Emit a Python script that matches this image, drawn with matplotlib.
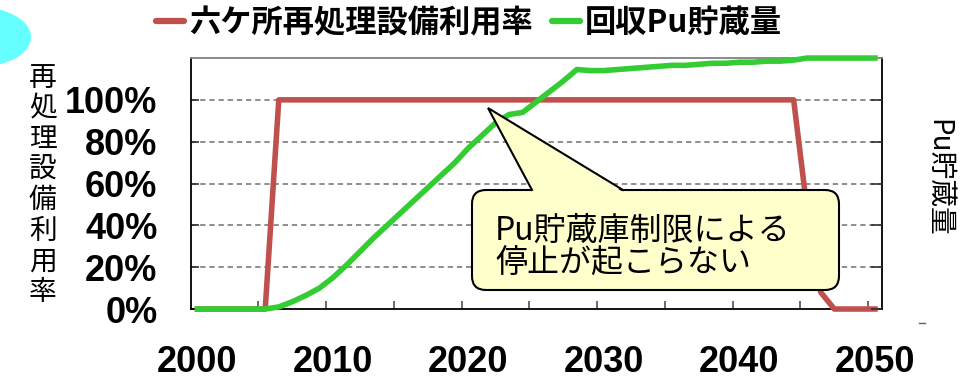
import matplotlib
matplotlib.use("Agg")
import matplotlib.pyplot as plt
from matplotlib.lines import Line2D
from matplotlib.patches import Ellipse, FancyBboxPatch, Polygon

CJK = ["Noto Sans CJK JP", "DejaVu Sans"]
plt.rcParams["font.family"] = CJK

years = list(range(2000, 2051))

# 六ケ所再処理設備利用率 (%)
util_rate = [0, 0, 0, 0, 0, 0,
             100, 100, 100, 100, 100, 100, 100, 100, 100, 100,
             100, 100, 100, 100, 100, 100, 100, 100, 100, 100,
             100, 100, 100, 100, 100, 100, 100, 100, 100, 100,
             100, 100, 100, 100, 100, 100, 100, 100, 100,
             47, 8, 0, 0, 0, 0]

# 回収Pu貯蔵量 (same 0-120 scale on the right axis)
pu_stock = [0, 0, 0, 0, 0, 0,
            1, 3.5, 6.5, 10, 15, 21, 27.5, 34, 40, 46,
            52, 58, 64, 70, 77, 83, 89, 93, 94, 99,
            104, 109, 114.5, 114, 114, 114.5, 115, 115.5, 116, 116.5,
            116.5, 117, 117.5, 117.5, 118, 118, 118.5, 118.5, 119, 120,
            120, 120, 120, 120, 120]

x_labels = [2000, 2010, 2020, 2030, 2040, 2050]
x_marks = [2004.5, 2009.5, 2014.5, 2019.5, 2024.5, 2029.5, 2034.5, 2039.5, 2044.5, 2049.5]
y_ticks = [0, 20, 40, 60, 80, 100]
y_ticklabels = ["0%", "20%", "40%", "60%", "80%", "100%"]

RED = "#c0504d"
GREEN = "#33cc33"

fig = plt.figure(figsize=(9.76, 3.8), dpi=100)
ax = fig.add_axes([0.1954, 0.1868, 0.708, 0.6605])

ax.plot(years, util_rate, color=RED, lw=4, clip_on=False, zorder=3)
ax.set_xlim(1999.5, 2050.5)
ax.set_ylim(0, 120)

for y in y_ticks[1:]:
    ax.axhline(y, color="#707070", lw=1.1, ls=(0, (3.5, 2.5)), zorder=1)

num_font = dict(family="Liberation Sans", weight="bold", size=26)
ax.set_xticks(x_labels)
ax.set_xticklabels([str(v) for v in x_labels], fontdict=num_font)
ax.set_xticks(x_marks, minor=True)
ax.tick_params(axis="x", which="major", length=0, pad=26)
ax.tick_params(axis="x", which="minor", direction="in", length=6, width=1.2, color="#505050")
ax.set_yticks(y_ticks)
ax.set_yticklabels(y_ticklabels, fontdict=num_font)
ax.tick_params(axis="y", direction="in", length=6, width=1.2, color="#303030", pad=24)

for side in ["left", "bottom", "right"]:
    ax.spines[side].set_color("black")
    ax.spines[side].set_linewidth(1.3)
ax.spines["top"].set_color("#808080")
ax.spines["top"].set_linewidth(1.3)

ax.set_ylabel("\n".join("再処理設備利用率"), rotation=0, fontsize=20,
              linespacing=1.03, ha="center", va="center")
ax.yaxis.set_label_coords(-0.214, 0.494)

# Pu storage on its own axis
ax2 = ax.twinx()
ax2.plot(years, pu_stock, color=GREEN, lw=4, clip_on=False, zorder=3)
ax2.set_ylim(0, 120)
ax2.set_yticks(y_ticks)
ax2.set_yticklabels([])
ax2.tick_params(axis="y", direction="in", length=8, width=1.2, color="#303030")
for side in ["left", "bottom", "right", "top"]:
    ax2.spines[side].set_visible(False)
ax2.set_ylabel("Pu貯蔵量", rotation=270, fontsize=20, ha="center", va="center")
ax2.yaxis.set_label_coords(1.0815, 0.522)

handles = [Line2D([], [], color=RED, lw=4.5, solid_capstyle="round"),
           Line2D([], [], color=GREEN, lw=4.5, solid_capstyle="round")]
fig.legend(handles, ["六ケ所再処理設備利用率", "回収Pu貯蔵量"], ncol=2, frameon=False,
           loc="center", bbox_to_anchor=(0.4805, 0.939),
           prop=dict(family=CJK, weight="bold", size=22.5),
           handlelength=0.9, handletextpad=0.15, columnspacing=0.6)

# overlay in pixel units for the decorations
ov = fig.add_axes([0, 0, 1, 1])
ov.set_xlim(0, 976)
ov.set_ylim(380, 0)
ov.axis("off")
ov.patch.set_visible(False)

ov.add_patch(Ellipse((-22, 37), 106, 60, color="#66ffff", lw=0))

box = FancyBboxPatch((472, 190), 367, 100, boxstyle="round,pad=0,rounding_size=14",
                     fc="#ffffcc", ec="black", lw=1.5, zorder=5)
ov.add_patch(box)
ov.add_patch(Polygon([(532, 192), (488, 108), (623, 192)], closed=True,
                     fc="#ffffcc", ec="none", zorder=6))
ov.plot([532, 488, 623], [190, 108, 190], color="black", lw=1.5, zorder=7,
        solid_joinstyle="miter")
ov.text(495, 247, "Pu貯蔵庫制限による\n停止が起こらない", fontsize=23,
        ha="left", va="center", linespacing=1.05, zorder=8)
ov.plot([919, 925], [323, 323], color="#606060", lw=1)

fig.savefig("out.png", dpi=100)
